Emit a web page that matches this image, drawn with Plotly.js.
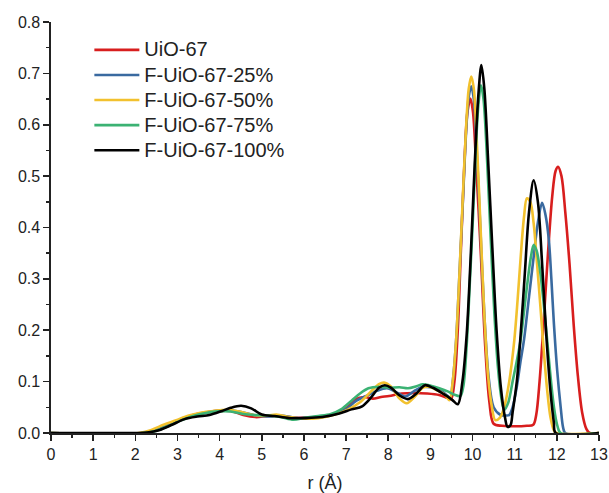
<!DOCTYPE html>
<html>
<head>
<meta charset="utf-8">
<script src="https://cdn.plot.ly/plotly-3.0.1.min.js"></script>
<style>
html,body{margin:0;padding:0;background:#fff;}
#chart{width:609px;height:493px;}
.legendtext{font-size:20px !important;}
</style>
</head>
<body>
<div id="chart"></div>
<script>
// Series names
const seriesNames = ["UiO-67", "F-UiO-67-25%", "F-UiO-67-50%", "F-UiO-67-75%", "F-UiO-67-100%"];
const seriesColors = ["#d81e1e", "#3a6aa0", "#f2c12e", "#3bb273", "#000000"];

// UiO-67 (red)
const rRed = [0, 2.18, 2.48, 2.77, 3.07, 3.37, 3.67, 3.96, 4.26, 4.56, 4.85, 5.15, 5.45, 5.75, 6.04, 6.44, 6.84, 7.03, 7.23, 7.43, 7.63, 7.83, 8.02, 8.32, 8.62, 8.92, 9.21, 9.41, 9.49,
  9.57, 9.65, 9.73, 9.81, 9.88, 9.95, 10.01, 10.08, 10.19, 10.3, 10.4, 10.5, 10.7, 11.0, 11.29, 11.44,
  11.51, 11.59, 11.69, 11.79, 11.89, 11.97, 12.03, 12.11, 12.2, 12.3, 12.4, 12.5, 12.6, 12.7, 12.78, 13];
const gRed = [0, 0, 0.005, 0.014, 0.025, 0.035, 0.04, 0.043, 0.043, 0.035, 0.031, 0.033, 0.033, 0.03, 0.03, 0.032, 0.04, 0.05, 0.066, 0.07, 0.067, 0.07, 0.072, 0.077, 0.078, 0.077, 0.074, 0.068, 0.066,
  0.1, 0.2, 0.37, 0.53, 0.625, 0.651, 0.625, 0.53, 0.36, 0.17, 0.06, 0.018, 0.014, 0.013, 0.014, 0.016,
  0.035, 0.1, 0.22, 0.35, 0.46, 0.51, 0.518, 0.5, 0.43, 0.33, 0.21, 0.11, 0.04, 0.008, 0, 0];

// F-UiO-67-25% (blue)
const rBlue = [0, 2.18, 2.48, 2.77, 3.07, 3.37, 3.67, 3.96, 4.26, 4.56, 4.85, 5.15, 5.45, 5.75, 6.04, 6.44, 6.84, 7.03, 7.23, 7.48, 7.73, 7.97, 8.22, 8.4, 8.62, 8.82, 9.01, 9.21, 9.41, 9.47,
  9.53, 9.61, 9.69, 9.77, 9.85, 9.91, 9.97, 10.03, 10.1, 10.19, 10.28, 10.38, 10.5, 10.65, 10.8, 10.87,
  10.95, 11.05, 11.14, 11.22, 11.34, 11.45, 11.55, 11.65, 11.73, 11.81, 11.87, 11.93, 12.01, 12.09, 12.15, 12.2, 13];
const gBlue = [0, 0, 0.005, 0.015, 0.026, 0.034, 0.04, 0.043, 0.044, 0.04, 0.034, 0.032, 0.034, 0.03, 0.029, 0.031, 0.04, 0.048, 0.062, 0.072, 0.082, 0.087, 0.078, 0.071, 0.082, 0.09, 0.089, 0.085, 0.072, 0.068,
  0.1, 0.18, 0.31, 0.45, 0.59, 0.655, 0.675, 0.65, 0.55, 0.39, 0.23, 0.11, 0.05, 0.036, 0.034, 0.035,
  0.05, 0.09, 0.14, 0.181, 0.265, 0.343, 0.41, 0.448, 0.425, 0.376, 0.3, 0.213, 0.12, 0.051, 0.01, 0, 0];

// F-UiO-67-50% (yellow)
const rYellow = [0, 2.08, 2.38, 2.67, 2.97, 3.27, 3.57, 3.86, 4.16, 4.46, 4.75, 5.05, 5.35, 5.65, 5.94, 6.34, 6.74, 7.03, 7.33, 7.58, 7.78, 7.9, 8.07, 8.27, 8.44, 8.62, 8.82, 8.96, 9.16, 9.35, 9.45,
  9.53, 9.61, 9.69, 9.77, 9.85, 9.91, 9.97, 10.03, 10.1, 10.19, 10.28, 10.37, 10.46, 10.54, 10.65,
  10.75, 10.87, 10.99, 11.07, 11.14, 11.22, 11.29, 11.37, 11.45, 11.53, 11.61, 11.69, 11.77, 11.85, 11.93, 11.99, 13];
const gYellow = [0, 0, 0.006, 0.016, 0.025, 0.034, 0.04, 0.043, 0.045, 0.042, 0.036, 0.033, 0.036, 0.031, 0.028, 0.029, 0.036, 0.045, 0.06, 0.08, 0.095, 0.098, 0.09, 0.067, 0.058, 0.07, 0.088, 0.09, 0.083, 0.074, 0.064,
  0.1, 0.18, 0.31, 0.46, 0.6, 0.67, 0.694, 0.67, 0.57, 0.4, 0.23, 0.11, 0.05, 0.025, 0.03,
  0.05, 0.1, 0.18, 0.26, 0.34, 0.42, 0.457, 0.45, 0.408, 0.33, 0.246, 0.16, 0.084, 0.03, 0.005, 0, 0];

// F-UiO-67-75% (green)
const rGreen = [0, 2.18, 2.48, 2.77, 3.07, 3.37, 3.67, 3.96, 4.26, 4.56, 4.85, 5.15, 5.45, 5.75, 6.04, 6.34, 6.64, 6.88, 7.13, 7.33, 7.53, 7.78, 8.02, 8.27, 8.47, 8.67, 8.82, 9.01, 9.21, 9.41, 9.56, 9.71,
  9.78, 9.86, 9.94, 10.01, 10.07, 10.14, 10.2, 10.26, 10.34, 10.43, 10.52, 10.6, 10.68, 10.75, 10.85,
  10.95, 11.05, 11.14, 11.24, 11.33, 11.39, 11.45, 11.52, 11.61, 11.69, 11.77, 11.85, 11.93, 12.01, 12.09, 13];
const gGreen = [0, 0, 0.004, 0.013, 0.024, 0.033, 0.039, 0.042, 0.042, 0.037, 0.035, 0.034, 0.031, 0.026, 0.03, 0.033, 0.037, 0.046, 0.063, 0.077, 0.087, 0.09, 0.088, 0.089, 0.087, 0.091, 0.095, 0.092, 0.087, 0.081, 0.075, 0.072,
  0.09, 0.17, 0.3, 0.42, 0.54, 0.64, 0.677, 0.65, 0.54, 0.38, 0.23, 0.13, 0.07, 0.045, 0.06,
  0.1, 0.14, 0.181, 0.25, 0.311, 0.345, 0.366, 0.355, 0.311, 0.25, 0.181, 0.11, 0.051, 0.015, 0, 0];

// F-UiO-67-100% (black)
const rBlack = [0, 1.98, 2.28, 2.58, 2.87, 3.17, 3.47, 3.76, 4.06, 4.26, 4.51, 4.75, 5.0, 5.3, 5.65, 6.04, 6.44, 6.84, 7.13, 7.38, 7.58, 7.78, 7.92, 8.07, 8.27, 8.47, 8.67, 8.87, 9.06, 9.31, 9.51, 9.65,
  9.76, 9.86, 9.96, 10.05, 10.14, 10.21, 10.28, 10.37, 10.47, 10.57, 10.67, 10.77, 10.83, 10.9,
  10.95, 11.05, 11.14, 11.24, 11.34, 11.45, 11.55, 11.65, 11.75, 11.85, 11.93, 11.97, 13];
const gBlack = [0, 0, 0.001, 0.006, 0.016, 0.027, 0.032, 0.035, 0.043, 0.049, 0.053, 0.048, 0.036, 0.033, 0.029, 0.029, 0.031, 0.038, 0.046, 0.052, 0.068, 0.088, 0.093, 0.088, 0.073, 0.066, 0.077, 0.093, 0.088, 0.076, 0.065, 0.056,
  0.1, 0.19, 0.35, 0.52, 0.66, 0.716, 0.67, 0.53, 0.36, 0.2, 0.09, 0.03, 0.012, 0.015,
  0.04, 0.1, 0.19, 0.31, 0.43, 0.492, 0.45, 0.33, 0.19, 0.08, 0.02, 0, 0];

const xs = [rRed, rBlue, rYellow, rGreen, rBlack];
const ys = [gRed, gBlue, gYellow, gGreen, gBlack];

const traces = seriesNames.map((name, i) => ({
  x: xs[i], y: ys[i], name: name, type: 'scatter', mode: 'lines',
  line: {color: seriesColors[i], width: 2.6, shape: 'spline', smoothing: 0.9}
}));

const axisFont = {family: 'Liberation Sans, Arial, sans-serif', size: 16, color: '#222'};
const layout = {
  width: 609, height: 493,
  margin: {l: 51, r: 10, t: 22, b: 60},
  paper_bgcolor: '#fff', plot_bgcolor: '#fff',
  showlegend: true,
  legend: {x: 0.07, y: 0.975, xanchor: 'left', yanchor: 'top', bgcolor: 'rgba(0,0,0,0)',
    font: {family: 'Liberation Sans, Arial, sans-serif', size: 17, color: '#222'}, itemwidth: 45, tracegroupgap: 0},
  xaxis: {range: [0, 13], dtick: 1, tick0: 0, showgrid: false, zeroline: false, ticklabeloverflow: 'allow',
    showline: true, linecolor: '#222', linewidth: 1.6, ticks: 'outside', ticklen: 6, tickwidth: 1.6, tickcolor: '#222',
    minor: {dtick: 0.5, ticks: 'outside', ticklen: 3, tickwidth: 1.4, tickcolor: '#222', showgrid: false},
    tickfont: axisFont,
    title: {text: 'r (Å)', font: {family: 'Liberation Sans, Arial, sans-serif', size: 18, color: '#222'}, standoff: 14}},
  yaxis: {range: [0, 0.8], dtick: 0.1, tick0: 0, tickformat: '.1f', showgrid: false, zeroline: false,
    showline: true, linecolor: '#222', linewidth: 1.6, ticks: 'outside', ticklen: 6, tickwidth: 1.6, tickcolor: '#222',
    minor: {dtick: 0.05, ticks: 'outside', ticklen: 3, tickwidth: 1.4, tickcolor: '#222', showgrid: false},
    tickfont: axisFont}
};

Plotly.newPlot('chart', traces, layout, {displayModeBar: false, staticPlot: true});
</script>
</body>
</html>
